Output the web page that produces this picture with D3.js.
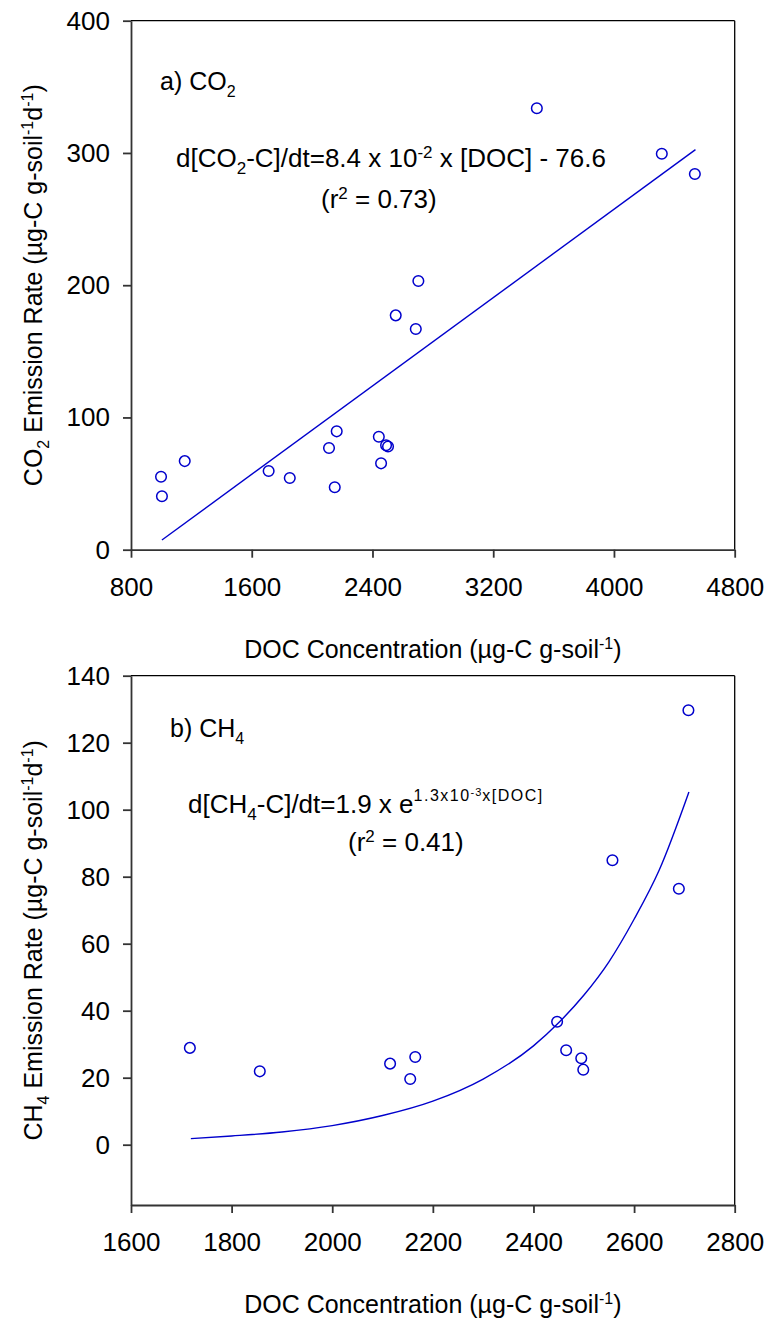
<!DOCTYPE html>
<html>
<head>
<meta charset="utf-8">
<script src="https://cdn.jsdelivr.net/npm/d3@7"></script>
<style>
body { margin: 0; background: #fff; }
text { font-family: "Liberation Sans", Arial, sans-serif; fill: #000; white-space: pre; }
</style>
</head>
<body>
<div id="chart"></div>
<script>
// panel a - CO2 vs DOC
var co2Doc  = [999, 1005, 1156, 1712, 1852, 2112, 2163, 2150, 2442, 2457, 2490, 2503, 2554, 2687, 2704, 3489, 4317, 4536];
var co2Rate = [55.2, 40.4, 67.0, 59.5, 54.2, 76.9, 89.5, 47.2, 85.4, 65.3, 79.0, 78.0, 177.2, 166.9, 203.2, 333.8, 299.4, 284.1];
var co2FitDoc  = [1005, 4540];
var co2FitRate = [7.3, 302.5];
var co2XTicks = [800, 1600, 2400, 3200, 4000, 4800];
var co2YTicks = [0, 100, 200, 300, 400];

// panel b - CH4 vs DOC
var ch4Doc  = [1717, 1856, 2115, 2165, 2155, 2447, 2465, 2495, 2499, 2557, 2689, 2708];
var ch4Rate = [28.9, 21.9, 24.2, 26.2, 19.6, 36.7, 28.2, 25.8, 22.4, 84.9, 76.4, 129.7];
var ch4FitDoc  = [1719, 1800, 1900, 2000, 2100, 2200, 2300, 2400, 2450, 2500, 2550, 2600, 2650, 2709];
var ch4FitRate = [1.8, 2.6, 3.8, 5.7, 8.7, 13.0, 19.6, 29.5, 36.4, 44.6, 54.6, 67.3, 82.0, 105.3];
var ch4XTicks = [1600, 1800, 2000, 2200, 2400, 2600, 2800];
var ch4YTicks = [0, 20, 40, 60, 80, 100, 120, 140];

var blue = "#0000cc";
var fs = 25;

var svg = d3.select("#chart")
    .append("svg")
    .attr("width", 766)
    .attr("height", 1322);

// text with sub/superscripts: parts = [text, raise, size, letterSpacing]
function richText(g, x, y, parts, size, anchor){
    var t = g.append("text")
        .attr("x", x).attr("y", y)
        .attr("font-size", size)
        .attr("text-anchor", anchor || "start");
    var prev = 0;
    parts.forEach(function(p){
        var raise = p[1] || 0;
        var ts = t.append("tspan")
            .attr("dy", prev - raise)
            .attr("font-size", p[2] || size)
            .text(p[0]);
        if (p[3]) ts.attr("letter-spacing", p[3]);
        prev = raise;
    });
    return t;
}

function drawPanel(o){
    var x = d3.scaleLinear().domain(o.xDomain).range([131, 734.7]);
    var y = d3.scaleLinear().domain(o.yDomain).range([o.bottom, o.top]);
    var g = svg.append("g");

    // top and right frame
    g.append("line").attr("x1", x.range()[0]).attr("x2", x.range()[1])
        .attr("y1", o.top).attr("y2", o.top)
        .attr("stroke", "#000").attr("stroke-width", 1.3);
    g.append("line").attr("x1", x.range()[1]).attr("x2", x.range()[1])
        .attr("y1", o.top).attr("y2", o.bottom)
        .attr("stroke", "#000").attr("stroke-width", 1.3);

    var xa = g.append("g")
        .attr("transform", "translate(0," + o.bottom + ")")
        .call(d3.axisBottom(x).tickValues(o.xTicks).tickFormat(d3.format("d"))
            .tickSize(8).tickSizeOuter(0).tickPadding(20));
    var ya = g.append("g")
        .attr("transform", "translate(131,0)")
        .call(d3.axisLeft(y).tickValues(o.yTicks).tickFormat(d3.format("d"))
            .tickSize(8).tickSizeOuter(0).tickPadding(13));
    [xa, ya].forEach(function(a){
        a.attr("font-size", 26).attr("font-family", null);
        a.selectAll("path, line").attr("stroke", "#333").attr("stroke-width", 1.8);
        a.selectAll("text").attr("fill", "#000");
    });

    // fit line
    var fit = o.fitX.map(function(d, i){ return [d, o.fitY[i]]; });
    g.append("path")
        .datum(fit)
        .attr("fill", "none")
        .attr("stroke", blue)
        .attr("stroke-width", 1.4)
        .attr("d", d3.line()
            .x(function(d){ return x(d[0]); })
            .y(function(d){ return y(d[1]); })
            .curve(d3.curveMonotoneX));

    // points
    var pts = o.px.map(function(d, i){ return {x: d, y: o.py[i]}; });
    g.selectAll("circle.pt")
        .data(pts)
        .enter()
      .append("circle")
        .attr("class", "pt")
        .attr("cx", function(d){ return x(d.x); })
        .attr("cy", function(d){ return y(d.y); })
        .attr("r", 5.3)
        .attr("fill", "none")
        .attr("stroke", blue)
        .attr("stroke-width", 1.5);

    // axis titles
    richText(g, (x.range()[0] + x.range()[1]) / 2, o.bottom + 108,
        [["DOC Concentration (\u00b5g-C g-soil"], ["-1", 9, 16], [")"]], fs, "middle");
    var yt = richText(g, 0, 0, o.yTitle, fs, "middle");
    yt.attr("transform", "translate(42," + (o.top + o.bottom) / 2 + ") rotate(-90)");

    o.notes.forEach(function(n){
        richText(g, n.x, n.y, n.parts, n.size || fs);
    });
}

drawPanel({
    xDomain: [800, 4800], yDomain: [0, 400], top: 20.7, bottom: 549.7,
    xTicks: co2XTicks, yTicks: co2YTicks,
    px: co2Doc, py: co2Rate, fitX: co2FitDoc, fitY: co2FitRate,
    yTitle: [["CO"], ["2", -7, 16], [" Emission Rate (\u00b5g-C g-soil"], ["-1", 9, 16], ["d"], ["-1", 9, 16], [")"]],
    notes: [
        {x: 160, y: 90, parts: [["a) CO"], ["2", -7, 16]]},
        {x: 176, y: 167, size: 26, parts: [["d[CO"], ["2", -7, 17], ["-C]/dt=8.4 x 10"], ["-2", 9, 17], [" x [DOC] - 76.6"]]},
        {x: 321, y: 208, size: 26, parts: [["(r"], ["2", 9, 17], [" = 0.73)"]]}
    ]
});

drawPanel({
    xDomain: [1600, 2800], yDomain: [-18, 140], top: 675.7, bottom: 1205,
    xTicks: ch4XTicks, yTicks: ch4YTicks,
    px: ch4Doc, py: ch4Rate, fitX: ch4FitDoc, fitY: ch4FitRate,
    yTitle: [["CH"], ["4", -7, 16], [" Emission Rate (\u00b5g-C g-soil"], ["-1", 9, 16], ["d"], ["-1", 9, 16], [")"]],
    notes: [
        {x: 170, y: 737, parts: [["b) CH"], ["4", -7, 16]]},
        {x: 188, y: 813, size: 26, parts: [["d[CH"], ["4", -7, 17], ["-C]/dt=1.9 x e"], ["1.3x10", 12, 16, 1.5], ["-3", 17, 11, 1], ["x[DOC]", 12, 16, 1.5]]},
        {x: 348, y: 851, size: 26, parts: [["(r"], ["2", 9, 17], [" = 0.41)"]]}
    ]
});
</script>
</body>
</html>
